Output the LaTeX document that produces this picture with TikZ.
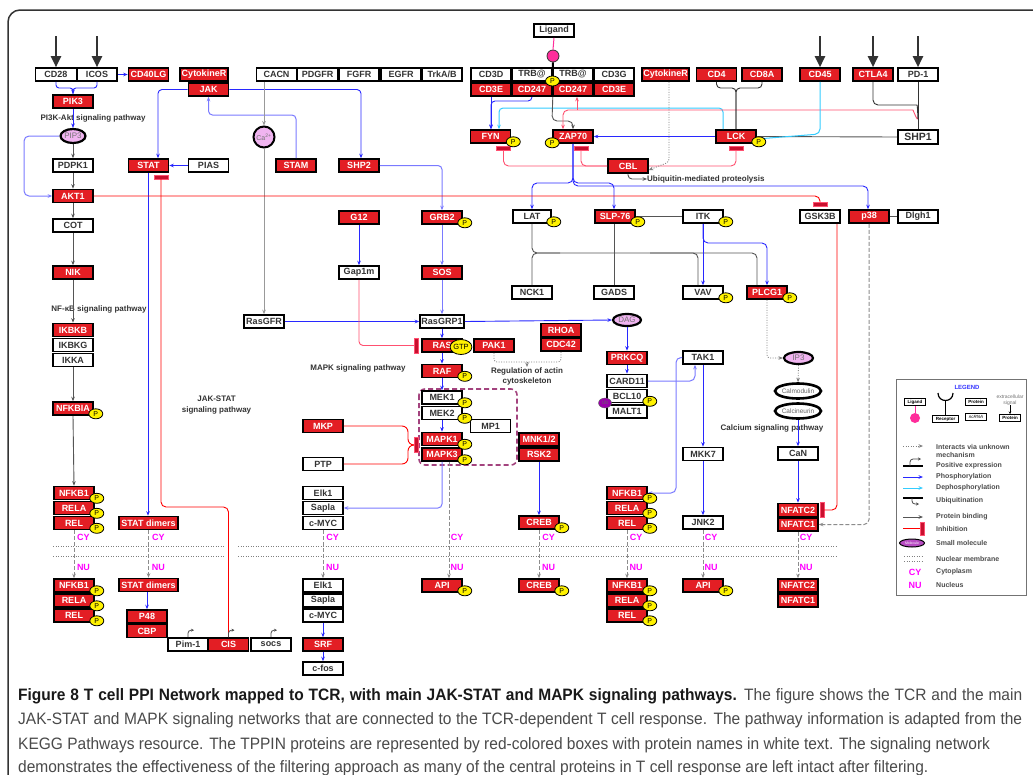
\documentclass[tikz,border=0pt]{standalone}
\usepackage{fontspec}
\setmainfont{Liberation Sans}
\newfontfamily\capfont[FakeStretch=0.94]{Liberation Sans}
\usetikzlibrary{arrows.meta,shapes.geometric}
\definecolor{kred}{HTML}{E31E24}
\definecolor{dgray}{HTML}{333333}
\definecolor{pblue}{HTML}{2828FF}
\definecolor{lblue}{HTML}{7A7AFF}
\definecolor{lgray}{HTML}{555555}
\definecolor{cyanl}{HTML}{33CCFF}
\definecolor{pinkr}{HTML}{FF5070}
\definecolor{mag}{HTML}{FF00FF}
\definecolor{molp}{HTML}{F0B4F0}
\definecolor{barred}{HTML}{C8102E}
\definecolor{purpd}{HTML}{A3437E}
\definecolor{ligpink}{HTML}{FF2D9B}
\definecolor{ubp}{HTML}{9900AA}
\definecolor{capg}{HTML}{4A4A4A}
\newcommand\posexp[1]{\draw[draw=black!70,line width=0.8pt,-{Stealth[length=3pt,width=3pt]}] (#1.north) -- ++(0,-4) arc[start angle=180,end angle=270,radius=3] -- ++(3,0);}
\newcommand\Pse[1]{\node[pb] (#1P) at ([shift={(2,-2)}]#1.south east) {P};}
\tikzset{
 wb/.style={draw=black,line width=1.6pt,fill=white,minimum width=40pt,minimum height=13pt,inner sep=0pt,font=\bfseries\fontsize{9}{9}\selectfont,text=dgray},
 rb/.style={wb,fill=kred,text=white},
 pb/.style={ellipse,draw=black,line width=0.8pt,fill=yellow,minimum width=14pt,minimum height=10pt,inner sep=0pt,font=\fontsize{7}{7}\selectfont},
 mol/.style={ellipse,draw=black,line width=2.2pt,fill=molp,minimum width=26pt,minimum height=13pt,inner sep=0pt,font=\fontsize{8}{8}\selectfont,text=black!55},
 calel/.style={ellipse,draw=black,line width=2.6pt,fill=white,minimum width=44pt,minimum height=15pt,inner sep=0pt,font=\fontsize{6.5}{7}\selectfont,text=black!60},
 bl/.style={draw=pblue,line width=0.9pt},
 blt/.style={draw=lblue,line width=1pt},
 gy/.style={draw=lgray,line width=0.9pt},
 rd/.style={draw=red,line width=0.9pt},
 pk/.style={draw=pinkr,line width=0.9pt},
 cy/.style={draw=cyanl,line width=1pt},
 dsh/.style={draw=black!45,line width=1pt,dash pattern=on 4pt off 2pt},
 dots/.style={draw=black!50,line width=0.8pt,dash pattern=on 1pt off 1.5pt},
 ibar/.style={rectangle,fill=barred,draw=pinkr,line width=0.5pt,minimum width=14pt,minimum height=3.5pt,inner sep=0pt},
 ibarv/.style={ibar,minimum width=3.5pt,minimum height=15pt},
 txt/.style={font=\bfseries\fontsize{8}{10.5}\selectfont,text=dgray,align=center,inner sep=0pt},
 cyn/.style={font=\bfseries\fontsize{9}{9}\selectfont,text=mag,inner sep=0pt},
 bigarr/.style={draw=dgray,line width=2.2pt,-{Triangle[length=11pt,width=10pt]}},
 lgbox/.style={draw=black,line width=1pt,fill=white,minimum width=21pt,minimum height=7pt,inner sep=0pt,font=\bfseries\fontsize{4.5}{5}\selectfont},
 lgt/.style={font=\bfseries\fontsize{7}{8}\selectfont,text=black!70,anchor=west,inner sep=0pt,align=left},
 capt/.style={anchor=west,inner sep=0pt,text=capg,font=\capfont\fontsize{16.5}{18}\selectfont},
}
\begin{document}
\begin{tikzpicture}[x=1pt,y=-1pt,>={Stealth[length=4.5pt,width=3.6pt]}]
\useasboundingbox (0,0) rectangle (1033,774);
\fill[white] (0,0) rectangle (1033,774);
\begin{scope}
\clip (0,0) rectangle (1033,774);
\draw[dgray,line width=1.5pt,rounded corners=12pt] (8,10) rectangle (1060,800);
\end{scope}

% ---------- nodes: top row
\node[wb,minimum width=41pt] (cd28) at (56,74.5) {CD28};
\node[wb] (icos) at (97,74.5) {ICOS};
\node[rb] (cd40lg) at (148.5,74.5) {CD40LG};
\node[rb,minimum width=48pt] (cytL) at (204,74.5) {CytokineR};
\node[rb] (jak) at (208.5,89.5) {JAK};
\node[wb] (cacn) at (276.5,74.5) {CACN};
\node[wb] (pdgfr) at (317.5,74.5) {PDGFR};
\node[wb] (fgfr) at (359,74.5) {FGFR};
\node[wb] (egfr) at (401,74.5) {EGFR};
\node[wb] (trk) at (442,74.5) {TrkA/B};
\node[wb] (ligand) at (554,30.5) {Ligand};
\node[circle,draw=black!80,fill=ligpink,minimum size=12pt,inner sep=0pt,line width=0.8pt] (ligc) at (553,56) {};
\node[wb] (cd3d) at (491,74.5) {CD3D};
\node[wb] (trb1) at (532,74.5) {TRB@};
\node[wb] (trb2) at (573,74.5) {TRB@};
\node[wb] (cd3g) at (614,74.5) {CD3G};
\node[rb] (cd3e1) at (491,89.5) {CD3E};
\node[rb] (cd247a) at (532,89.5) {CD247};
\node[rb] (cd247b) at (573,89.5) {CD247};
\node[rb] (cd3e2) at (614,89.5) {CD3E};
\node[rb,minimum width=47pt] (cytR) at (665.5,74.5) {CytokineR};
\node[rb] (cd4) at (716.5,74.5) {CD4};
\node[rb] (cd8a) at (762,74.5) {CD8A};
\node[rb] (cd45) at (820,74.5) {CD45};
\node[rb] (ctla4) at (873,74.5) {CTLA4};
\node[wb] (pd1) at (918,74.5) {PD-1};

% ---------- left column
\node[rb] (pik3) at (73,101.5) {PIK3};
\node[mol,minimum width=25pt,minimum height=14pt] (pip3) at (73,136) {PIP3};
\node[wb] (pdpk1) at (73,165.5) {PDPK1};
\node[rb] (akt1) at (73,196) {AKT1};
\node[wb] (cot) at (73,225.5) {COT};
\node[rb] (nik) at (73,272.5) {NIK};
\node[rb] (ikbkb) at (73,330) {IKBKB};
\node[wb] (ikbkg) at (73,345) {IKBKG};
\node[wb] (ikka) at (73,360) {IKKA};
\node[rb] (nfkbia) at (73,408.5) {NFKBIA};
\node[rb] (nfkA) at (74,493) {NFKB1};
\node[rb] (relaA) at (74,508) {RELA};
\node[rb] (relA) at (74,523) {REL};
\node[rb] (nfkB) at (74,585.5) {NFKB1};
\node[rb] (relaB) at (74,600.5) {RELA};
\node[rb] (relB) at (74,615.5) {REL};

% ---------- JAK-STAT
\node[rb] (stat) at (148.5,165.5) {STAT};
\node[wb] (pias) at (208.5,165.5) {PIAS};
\node[rb] (stam) at (296,165.5) {STAM};
\node[circle,draw=black,line width=2pt,fill=molp,minimum size=21pt,inner sep=0pt,font=\fontsize{7}{7}\selectfont,text=black!55] (ca) at (264,137) {Ca\textsuperscript{2+}};
\node[rb,minimum width=59pt] (stdim1) at (148.5,523) {STAT dimers};
\node[rb,minimum width=59pt] (stdim2) at (148.5,585) {STAT dimers};
\node[rb] (p48) at (147,616.5) {P48};
\node[rb] (cbp) at (147,631) {CBP};
\node[wb] (pim1) at (188,644.5) {Pim-1};
\node[rb] (cis) at (228.5,644.5) {CIS};
\node[wb] (socs) at (271,644.5) {socs};

% ---------- MAPK
\node[rb] (shp2) at (359,165.5) {SHP2};
\node[rb] (g12) at (359,217.5) {G12};
\node[rb] (grb2) at (442,217.5) {GRB2};
\node[wb] (gap1m) at (359,272.5) {Gap1m};
\node[rb] (sos) at (442,272.5) {SOS};
\node[wb] (rasgfr) at (264,321.5) {RasGFR};
\node[wb,minimum width=44pt] (rasgrp1) at (442,321.5) {RasGRP1};
\node[rb] (ras) at (442,345.5) {RAS};
\node[rb] (pak1) at (494,345.5) {PAK1};
\node[rb] (rhoa) at (561,330) {RHOA};
\node[rb] (cdc42) at (561,344.5) {CDC42};
\node[rb] (raf) at (442,371) {RAF};
\draw[purpd,line width=1.6pt,dash pattern=on 5pt off 3pt,rounded corners=6pt] (419,389) rectangle (517,465);
\node[wb] (mek1) at (442,397.5) {MEK1};
\node[wb] (mek2) at (442,413) {MEK2};
\node[wb] (mp1) at (490.5,426) {MP1};
\node[rb] (mapk1) at (442,439) {MAPK1};
\node[rb] (mapk3) at (442,454.5) {MAPK3};
\node[rb] (mnk) at (539,439.5) {MNK1/2};
\node[rb] (rsk2) at (539,454.5) {RSK2};
\node[rb] (mkp) at (323,426) {MKP};
\node[wb] (ptp) at (323,464) {PTP};
\node[wb] (elk1A) at (323,493) {Elk1};
\node[wb] (saplaA) at (323,508) {Sapla};
\node[wb] (cmycA) at (323,523) {c-MYC};
\node[wb] (elk1B) at (323,585.5) {Elk1};
\node[wb] (saplaB) at (323,600.5) {Sapla};
\node[wb] (cmycB) at (323,615.5) {c-MYC};
\node[rb] (srf) at (323,644.5) {SRF};
\node[wb] (cfos) at (323,668.5) {c-fos};
\node[rb] (creb1) at (539,522.5) {CREB};
\node[rb] (creb2) at (539,585.5) {CREB};
\node[rb] (api1) at (442,585.5) {API};

% ---------- TCR core
\node[rb] (fyn) at (490.5,136.5) {FYN};
\node[rb] (zap70) at (573,136.5) {ZAP70};
\node[rb] (lck) at (736,136.5) {LCK};
\node[wb,minimum height=14pt,font=\bfseries\fontsize{10.5}{10.5}\selectfont] (shp1) at (918,137) {SHP1};
\node[rb,minimum height=14pt] (cbl) at (628,166) {CBL};
\node[wb,minimum width=38pt] (lat) at (532,216.5) {LAT};
\node[rb] (slp) at (615,216.5) {SLP-76};
\node[wb] (itk) at (703,216.5) {ITK};
\node[wb] (gsk) at (820,216.5) {GSK3B};
\node[rb] (p38) at (869,216.5) {p38};
\node[wb] (dlgh1) at (918,216.5) {Dlgh1};
\node[wb] (nck1) at (532,292.5) {NCK1};
\node[wb] (gads) at (614,292.5) {GADS};
\node[wb] (vav) at (703,292.5) {VAV};
\node[rb] (plcg1) at (767,292.5) {PLCG1};
\node[mol,minimum width=28pt,minimum height=12pt] (dag) at (627,320) {DAG};
\node[rb] (prkcq) at (627,358) {PRKCQ};
\node[wb] (card11) at (627,381) {CARD11};
\node[wb] (bcl10) at (627,396) {BCL10};
\node[wb] (malt1) at (627,411.5) {MALT1};
\node[wb] (tak1) at (703,357.5) {TAK1};
\node[wb] (mkk7) at (703,454) {MKK7};
\node[wb] (jnk2) at (703,522.5) {JNK2};
\node[rb] (api2) at (703,585.5) {API};
\node[rb] (nfkC) at (627,493) {NFKB1};
\node[rb] (relaC) at (627,508) {RELA};
\node[rb] (relC) at (627,523) {REL};
\node[rb] (nfkD) at (627,585.5) {NFKB1};
\node[rb] (relaD) at (627,600.5) {RELA};
\node[rb] (relD) at (627,615.5) {REL};
\node[mol,minimum width=29pt,minimum height=12pt] (ip3) at (798.5,358) {IP3};
\node[calel] (calmod) at (798,391) {Calmodulin};
\node[calel] (calcin) at (798,411) {Calcineurin};
\node[wb] (can) at (798,453.5) {CaN};
\node[rb] (nfatc2a) at (798,510) {NFATC2};
\node[rb] (nfatc1a) at (798,524.5) {NFATC1};
\node[rb] (nfatc2b) at (798,585.5) {NFATC2};
\node[rb] (nfatc1b) at (798,600.5) {NFATC1};

% ---------- text labels
\node[txt] (tpi3k) at (93,118) {PI3K-Akt signaling pathway};
\node[txt] (tnfkb) at (99,309) {NF-κB signaling pathway};
\node[txt] (tjak) at (216.5,405) {JAK-STAT\\signaling pathway};
\node[txt] (tmapk) at (358,368) {MAPK signaling pathway};
\node[txt,anchor=north] (ract) at (527,367) {Regulation of actin\\cytoskeleton};
\node[txt,anchor=west] (ubq) at (647,179) {Ubiquitin-mediated proteolysis};
\node[txt] (tcal) at (772,428) {Calcium signaling pathway};

% ---------- inhibition bars
\node[ibar] (barSTAT) at (161,177) {};
\node[ibar] (barFYN) at (503.5,148) {};
\node[ibar] (barZAP) at (581,148) {};
\node[ibar] (barLCK) at (736,148) {};
\node[ibar] (barGSK) at (820,204) {};
\node[ibarv] (barRAS) at (416,345.5) {};
\node[ibarv] (barMAPK) at (416,445) {};
\node[ibarv] (barNFAT) at (822,510) {};

% ---------- coordinates
\coordinate (a1) at (56,36);
\coordinate (a2) at (97,36);
\coordinate (a3) at (820,36);
\coordinate (a4) at (873,36);
\coordinate (a5) at (918,36);
\coordinate (shpj) at (918,118);
\coordinate (pkj) at (577,110);
\coordinate (actj) at (527,362);
\coordinate (cxj) at (650,253);

% ---------- connectors
\draw[bigarr] (a1) -- (cd28.north);
\draw[bigarr] (a2) -- (icos.north);
\draw[bigarr] (a3) -- (cd45.north);
\draw[bigarr] (a4) -- (ctla4.north);
\draw[bigarr] (a5) -- (pd1.north);

\draw[bl,->] (icos.east) -- (cd40lg.west);
\draw[bl,rounded corners=3pt] (cd28.south) -- (56,88) -- (73,88) -- (pik3.north);
\draw[bl,->,rounded corners=3pt] (icos.south) -- (97,88) -- (73,88) -- (pik3.north);
\draw[bl,->] (pik3.south) -- (pip3.north);
\draw[gy,->] (pip3.south) -- (pdpk1.north);
\draw[gy,->] (pdpk1.south) -- (akt1.north);
\draw[blt,->,rounded corners=5pt] (pip3.west) -- (24,136) -- (24,196) -- (akt1.west);
\draw[gy,->] (akt1.south) -- (cot.north);
\draw[gy,->] (cot.south) -- (nik.north);
\draw[gy,->] (nik.south) -- (ikbkb.north);
\draw[gy,->] (ikka.south) -- (nfkbia.north);
\draw[gy,->] (nfkbia.south) -- (nfkA.north);
\draw[dsh,->] (relA.south) -- (nfkB.north);

\draw[bl,->,rounded corners=4pt] (jak.west) -- (158,89.5) -- (stat.north -| 158,0);
\draw[bl,->] (pias.west) -- (stat.east);
\draw[blt,->,rounded corners=4pt] (stam.north) -- (296,115) -- (208.5,115) -- (jak.south);
\draw[bl,->,rounded corners=4pt] (jak.east) -- (361,89.5) -- (shp2.north -| 361,0);
\draw[draw=black!40,line width=0.9pt,->] (cacn.south -| 264,0) -- (ca.north);
\draw[draw=black!40,line width=0.9pt,->] (ca.south) -- (rasgfr.north);
\draw[bl,->] (rasgfr.east) -- (rasgrp1.west);
\draw[bl,->] (stat.south -| 148,0) -- (stdim1.north -| 148,0);
\draw[rd,rounded corners=5pt] (barSTAT.south) -- (161,507) -- (228.5,507) -- (cis.north);
\draw[dsh,->] (stdim1.south) -- (stdim2.north);
\draw[bl,->] (stdim2.south -| 147,0) -- (p48.north);
\posexp{pim1}
\posexp{cis}
\posexp{socs}

\draw[blt,->,rounded corners=4pt] (shp2.east) -- (442,165.5) -- (grb2.north);
\draw[blt,->] (grb2.south) -- (sos.north);
\draw[blt,->] (sos.south) -- (rasgrp1.north);
\draw[bl,->] (g12.south) -- (gap1m.north);
\draw[pk,rounded corners=4pt] (gap1m.south) -- (359,345.5) -- (barRAS.west);
\draw[bl,->] (rasgrp1.south) -- (ras.north);
\draw[bl,->] (rasgrp1.east) -- (dag.west);
\draw[bl,->] (ras.south) -- (raf.north);
\draw[bl,->] (raf.south) -- (mek1.north);
\draw[bl,->] (mek2.south) -- (mapk1.north);
\draw[rd,rounded corners=6pt] (mkp.east) -- (408,426) -- (408,445) -- (barMAPK.west);
\draw[rd,rounded corners=6pt] (ptp.east) -- (408,464) -- (408,445) -- (barMAPK.west);
\draw[blt,->,rounded corners=4pt] (mapk3.south) -- (442,508) -- (saplaA.east);
\draw[dsh,->] (mapk3.south -| 449,0) -- (api1.north -| 449,0);
\draw[bl,->] (rsk2.south) -- (creb1.north);
\draw[dsh,->] (creb1.south) -- (creb2.north);
\draw[dsh,->] (cmycA.south) -- (elk1B.north);
\draw[bl,->] (cmycB.south) -- (srf.north);
\draw[bl,->] (srf.south) -- (cfos.north);
\draw[dots,rounded corners=3pt] (pak1.south) -- (494,362) -- (561,362) -- (cdc42.south);
\draw[dots,->] (actj) -- (ract.north);

\draw[draw=ligpink,line width=1pt] (ligand.south) -- (ligc.north);
\draw[black,line width=2pt] (ligc.south) -- (trb1.north east);
\draw[bl,->] (cd3e1.south) -- (fyn.north -| 491,0);
\draw[bl,->,rounded corners=4pt] (cd247a.south) -- (532,101) -- (491,101) -- (fyn.north -| 491,0);
\draw[cy,->,rounded corners=4pt] (lck.north -| 723,0) -- (723,108) -- (499,108) -- (fyn.north -| 499,0);
\draw[gy,->,rounded corners=5pt] (cd247a.south east) -- (552,121) -- (573,121) -- (zap70.north);
\draw[pk,->,rounded corners=5pt] (shpj) to[out=-90,in=0] (908,110) -- (563,110) -- (zap70.north -| 563,0);
\draw[pk,->] (pkj) -- (cd247b.south -| 577,0);
\draw[bl,->] (lck.west) -- (zap70.east);
\draw[gy] (shp1.west) -- (lck.east);
\draw[cy,->,rounded corners=5pt] (cd45.south) -- (820,134) -- ([yshift=-2.5pt]lck.east);
\draw[draw=dgray,line width=0.9pt,rounded corners=4pt] (cd4.south) -- (716.5,88) -- (736,88) -- (lck.north);
\draw[draw=dgray,line width=0.9pt,rounded corners=4pt] (cd8a.south) -- (762,88) -- (736,88) -- (lck.north);
\draw[draw=dgray,line width=0.9pt,rounded corners=5pt] (ctla4.south) -- (873,105) -- (912,105) to[out=0,in=-90] (shpj);
\draw[draw=dgray,line width=0.9pt] (pd1.south) -- (shp1.north);
\draw[pk,rounded corners=5pt] (barFYN.south) -- (503.5,166) -- (cbl.west);
\draw[pk,rounded corners=5pt] (barZAP.south) -- (581,166) -- (cbl.west);
\draw[pk,rounded corners=5pt] (barLCK.south) -- (736,166) -- (cbl.east);
\draw[dots,->,rounded corners=3pt] (cytR.south -| 669,0) -- (669,162) -- ([yshift=-4pt]cbl.east);
\draw[gy,->,rounded corners=4pt] (cbl.south) -- (628,179) -- (ubq.west);
\draw[bl,->,rounded corners=5pt] (zap70.south) -- (573,183) -- (532,183) -- (lat.north);
\draw[bl,->,rounded corners=5pt] (zap70.south) -- (573,183) -- (614,183) -- (slp.north -| 614,0);
\draw[bl,->,rounded corners=5pt] (zap70.south) -- (573,186) -- (868,186) -- (p38.north -| 868,0);
\draw[rd,rounded corners=5pt] (akt1.east) -- (820,196) -- (barGSK.north);
\draw[gy] (slp.east) -- (itk.west);
\draw[gy] (p38.east) -- (dlgh1.west);
\draw[gy,rounded corners=5pt] (lat.south) -- (532,253) -- (757,253) -- (plcg1.north -| 757,0);
\draw[gy,rounded corners=5pt] (nck1.north) -- (532,253) -- (560,253);
\draw[gy] (slp.south -| 614,0) -- (gads.north);
\draw[gy,rounded corners=5pt] (cxj) -- (698,253) -- (vav.north -| 698,0);
\draw[bl,->] (itk.south) -- (vav.north);
\draw[bl,->,rounded corners=5pt] (itk.south) -- (703,243) -- (767,243) -- (plcg1.north);
\draw[dots,->,rounded corners=3pt] (plcg1.south) -- (767,358) -- (ip3.west);
\draw[dots,->] (ip3.south) -- (calmod.north);
\draw[bl,->] (calcin.south) -- (can.north);
\draw[bl,->] (can.south) -- (nfatc2a.north);
\draw[rd,rounded corners=5pt] (gsk.south -| 837,0) -- (837,510) -- (barNFAT.east);
\draw[dsh,->,rounded corners=5pt] (p38.south) -- (869,524.5) -- (nfatc1a.east);
\draw[dsh,->] (nfatc1a.south) -- (nfatc2b.north);
\draw[bl,->] (dag.south) -- (prkcq.north);
\draw[bl,->] (prkcq.south) -- (card11.north);
\draw[blt,->,rounded corners=5pt] (card11.east) -- (695,381) -- (tak1.south -| 695,0);
\draw[blt,->,rounded corners=5pt] (tak1.west) -- (676,357.5) -- (676,493) -- (nfkC.east);
\draw[bl,->] (tak1.south) -- (mkk7.north);
\draw[bl,->] (mkk7.south) -- (jnk2.north);
\draw[dsh,->] (jnk2.south) -- (api2.north);
\draw[dsh,->] (relC.south) -- (nfkD.north);

% ---------- nuclear membrane
\draw[dots] (53,546) -- (224,546);
\draw[dots] (53,556.5) -- (224,556.5);
\draw[dots] (238,546) -- (838,546);
\draw[dots] (238,556.5) -- (838,556.5);
\foreach \xx/\nm in {83.5/a,158.3/b,332.5/c,457/d,548.5/e,636/f,711/g,806/h}{
  \node[cyn] (cy\nm) at (\xx,537) {CY};
  \node[cyn] (nu\nm) at (\xx,567) {NU};
}

% ---------- badges
\node[pb] (tcrP) at (552.5,81) {P};
\node[pb] (zapP) at ([shift={(0,-1)}]zap70.south west) {P};
\Pse{fyn}\Pse{lck}\Pse{grb2}\Pse{lat}\Pse{slp}\Pse{itk}\Pse{vav}\Pse{plcg1}
\Pse{raf}\Pse{mek1}\Pse{mek2}\Pse{mapk1}\Pse{mapk3}\Pse{creb1}\Pse{creb2}\Pse{api1}\Pse{api2}
\Pse{bcl10}\Pse{nfkbia}
\Pse{nfkA}\Pse{relaA}\Pse{relA}\Pse{nfkB}\Pse{relaB}\Pse{relB}
\Pse{nfkC}\Pse{relaC}\Pse{relC}\Pse{nfkD}\Pse{relaD}\Pse{relD}
\node[pb,minimum width=20pt,minimum height=15pt,font=\fontsize{7.5}{8}\selectfont] (gtp) at (461,347) {GTP};
\node[ellipse,fill=ubp,draw=black!60,minimum width=13pt,minimum height=10pt,inner sep=0pt,font=\fontsize{5}{5}\selectfont,text=black!60] (ub) at (605,403) {Ub};

% ---------- legend
\draw[black!55,line width=1pt,fill=white] (896,379) rectangle (1026,595);
\node[font=\bfseries\fontsize{6}{6}\selectfont,text=blue!80] (legt) at (967,387) {LEGEND};
\node[lgbox] (lgLig) at (915,402) {Ligand};
\node[circle,fill=ligpink,minimum size=10pt,inner sep=0pt] (lgLc) at (915,418) {};
\draw[ligpink,line width=1pt] (lgLig.south) -- (lgLc.north);
\node[lgbox,minimum width=26pt] (lgRec) at (945.5,419) {Receptor};
\draw[black,line width=1.2pt] (938,393) .. controls (938,403) and (953,403) .. (953,393);
\draw[black,line width=1.2pt] (945.5,400.5) -- (lgRec.north);
\node[lgbox] (lgProt) at (976,402) {Protein};
\node[lgbox,font=\itshape\fontsize{4.5}{5}\selectfont] (lgRna) at (976,417) {ncRNA};
\node[font=\fontsize{5}{5.5}\selectfont,text=black!55,align=center,inner sep=0pt] (lgExt) at (1010,400) {extracellular\\signal};
\node[lgbox] (lgP2) at (1010,418) {Protein};
\draw[black,line width=0.6pt,-{Stealth[length=2.5pt,width=2.5pt]}] (lgExt.south) -- (lgP2.north);
\coordinate (l1a) at (903,446); \coordinate (l1b) at (923,446);
\draw[dots,->] (l1a) -- (l1b);
\node[lgt] (lt1) at (936,450.5) {Interacts via unknown\\mechanism};
\coordinate (l2a) at (903,466); \coordinate (l2b) at (923,466);
\draw[black,line width=1.4pt] (l2a) -- (l2b);
\draw[draw=black!70,line width=0.8pt,-{Stealth[length=3pt,width=3pt]}] (910,466) -- ++(0,-4) arc[start angle=180,end angle=270,radius=3] -- ++(8,0);
\node[lgt] (lt2) at (936,466) {Positive expression};
\coordinate (l3a) at (903,477); \coordinate (l3b) at (923,477);
\draw[bl,->] (l3a) -- (l3b);
\node[lgt] (lt3) at (936,477) {Phosphorylation};
\coordinate (l4a) at (903,488); \coordinate (l4b) at (923,488);
\draw[cy,->] (l4a) -- (l4b);
\node[lgt] (lt4) at (936,488) {Dephosphorylation};
\coordinate (l5a) at (903,498); \coordinate (l5b) at (923,498);
\draw[black,line width=1.4pt] (l5a) -- (l5b);
\draw[draw=black!70,line width=0.8pt,-{Stealth[length=3pt,width=3pt]}] (912,498) -- ++(0,3) arc[start angle=180,end angle=90,radius=3] -- ++(4,0);
\node[lgt] (lt5) at (936,501) {Ubiquitination};
\coordinate (l6a) at (903,517); \coordinate (l6b) at (923,517);
\draw[gy,->] (l6a) -- (l6b);
\node[lgt] (lt6) at (936,517) {Protein binding};
\node[ibarv,minimum height=13pt] (lgBar) at (922,528.5) {};
\coordinate (l7a) at (903,528.5);
\draw[rd] (l7a) -- (lgBar.west);
\node[lgt] (lt7) at (936,529) {Inhibition};
\node[ellipse,draw=black,line width=1pt,fill=ubp!70,minimum width=25pt,minimum height=8pt,inner sep=0pt,font=\fontsize{3.5}{4}\selectfont,text=white] (lgMol) at (912,543) {Molecule};
\node[lgt] (lt8) at (936,543) {Small molecule};
\draw[dots] (904,556) -- (922,556);
\draw[dots] (904,561) -- (922,561);
\node[lgt] (lt9) at (936,558.5) {Nuclear membrane};
\node[cyn] (lgCY) at (915,572) {CY};
\node[lgt] (lt10) at (936,572) {Cytoplasm};
\node[cyn] (lgNU) at (915,585) {NU};
\node[lgt] (lt11) at (936,585) {Nucleus};

% ---------- caption
\node[capt] (cap1) at (18,696) {\makebox[1004pt][s]{\textbf{\color{black!90}Figure 8 T cell PPI Network mapped to TCR, with main JAK-STAT and MAPK signaling pathways.} The figure shows the TCR and the main}};
\node[capt] (cap2) at (18,720.5) {\makebox[1004pt][s]{JAK-STAT and MAPK signaling networks that are connected to the TCR-dependent T cell response. The pathway information is adapted from the}};
\node[capt] (cap3) at (18,745) {KEGG Pathways resource. The TPPIN proteins are represented by red-colored boxes with protein names in white text. The signaling network};
\node[capt] (cap4) at (18,768) {demonstrates the effectiveness of the filtering approach as many of the central proteins in T cell response are left intact after filtering.};
\end{tikzpicture}
\end{document}
